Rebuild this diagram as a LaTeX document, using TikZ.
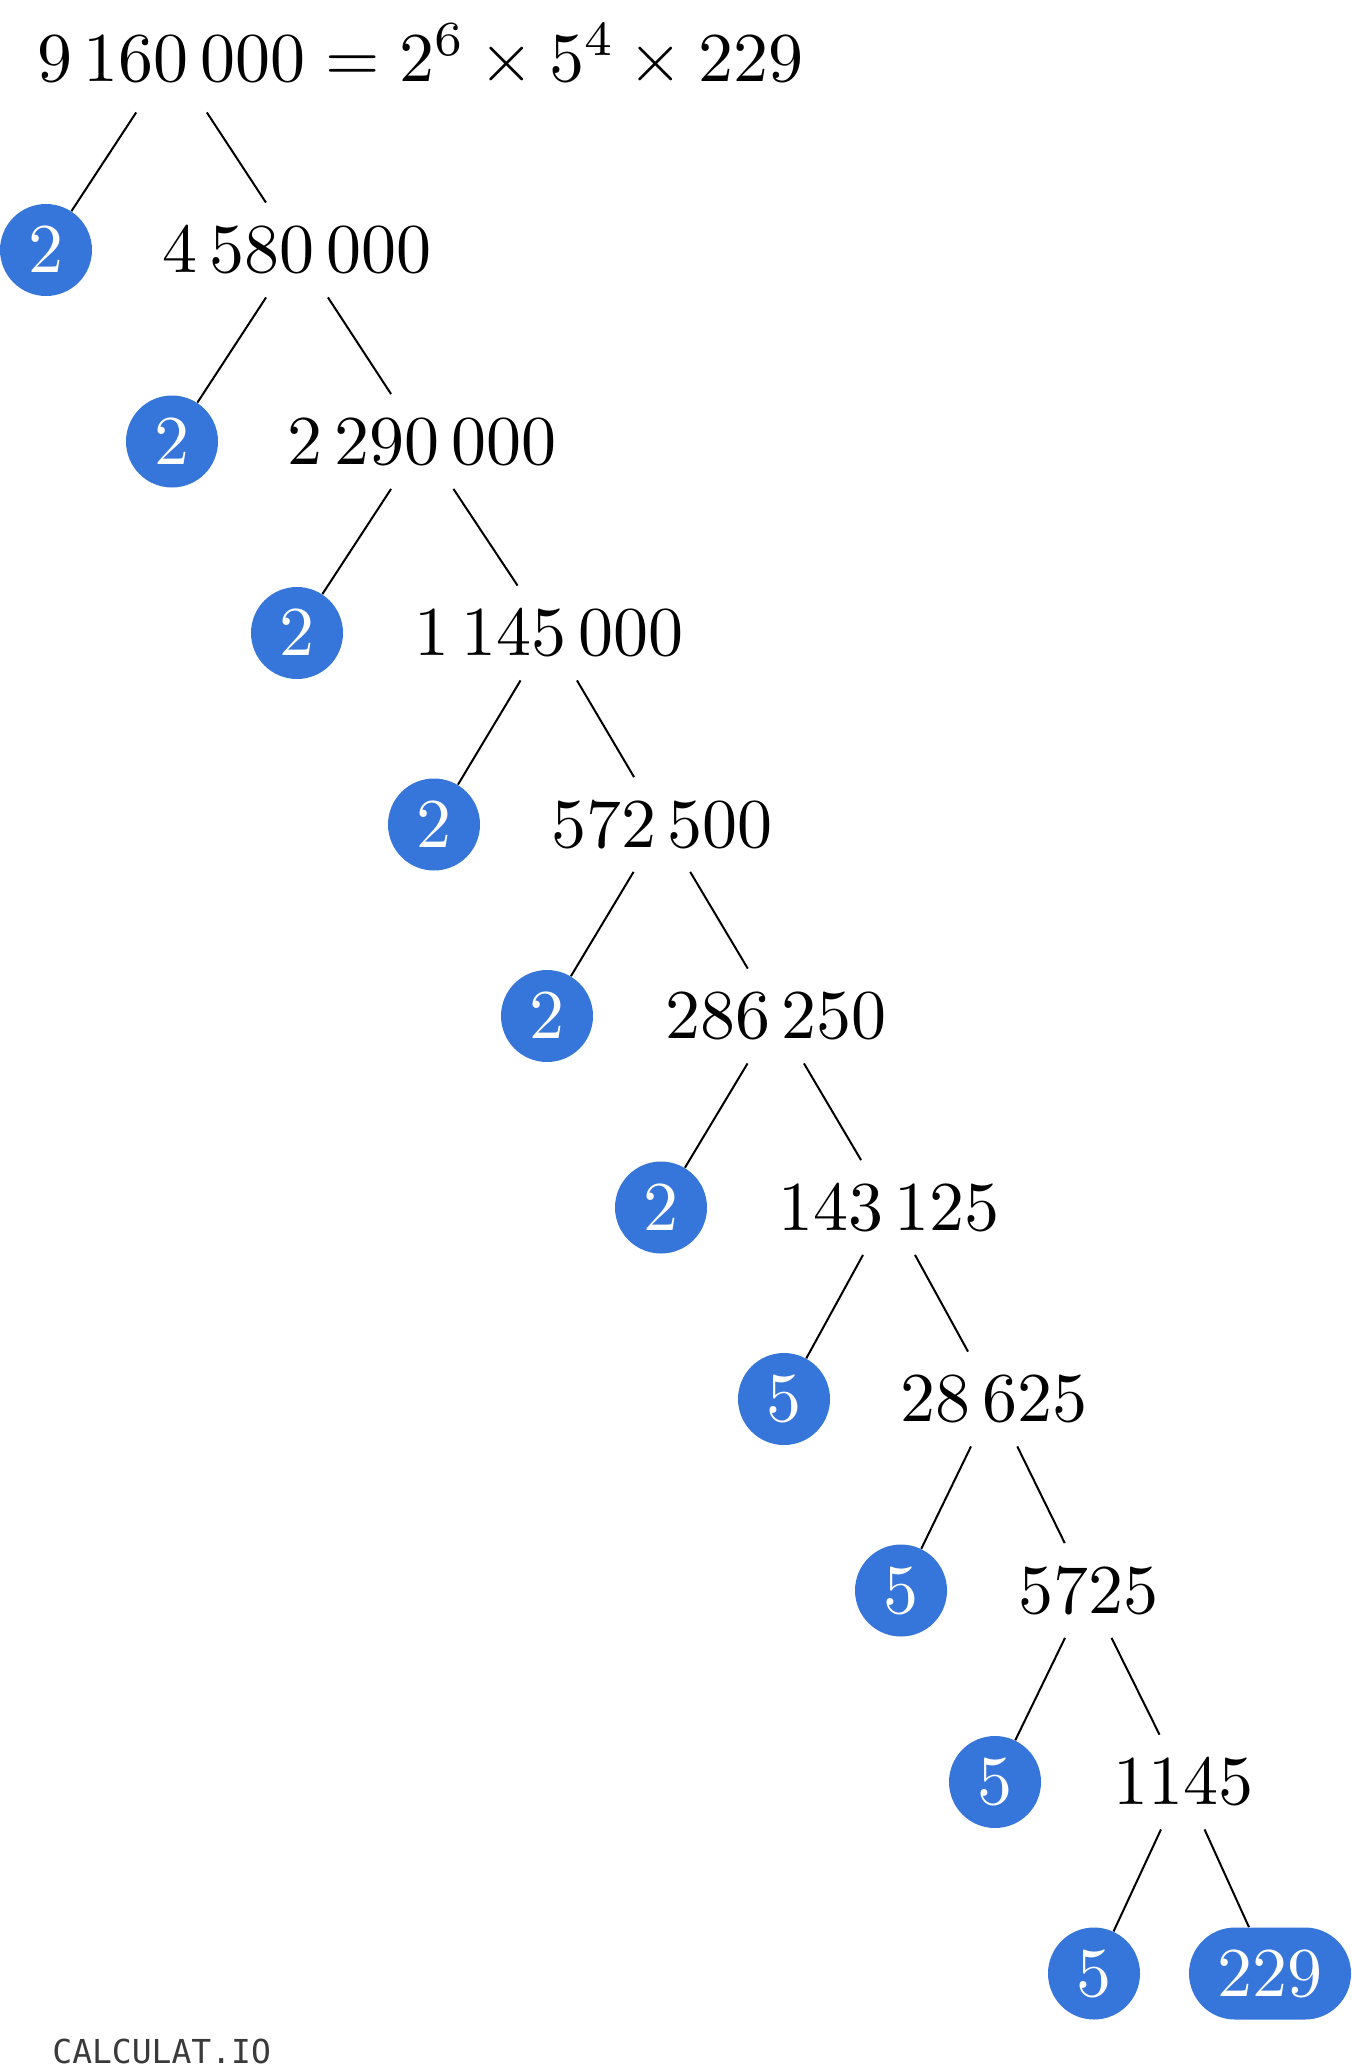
\documentclass[tikz,border=0pt]{standalone}
\usepackage{fix-cm}
\usepackage{fontspec}
\DeclareFontShape{OT1}{cmr}{m}{n}{<-30>cmr7<30->cmr10}{}
\newfontfamily\wmfont{DejaVu Sans Mono}
\definecolor{primeblue}{HTML}{3676DB}
\definecolor{wmgray}{HTML}{3A3A3A}
\tikzset{
  bigfont/.style={font=\fontsize{35}{42}\selectfont},
  num/.style={bigfont, inner xsep=6pt, inner ysep=0pt, minimum height=47pt},
  prime/.style={bigfont, circle, fill=primeblue, text=white, inner sep=0pt, minimum size=46pt},
  primepill/.style={prime, rectangle, rounded corners=23pt, minimum width=81pt},
  branch/.style={black, line width=1pt},
}

\begin{document}
\begin{tikzpicture}[x=0.5pt, y=-0.5pt]
\useasboundingbox (0,0) rectangle (1351,2070);
% root and its factorisation
\node[num, inner xsep=0pt, minimum height=53.5pt] (n1) at (171.5,58.5) {$9\,160\,000$};
\node[bigfont, inner sep=0pt, anchor=base west] (eq) at (n1.base east) {${}= 2^{6} \times 5^{4} \times 229$};
% chain of divisions
\foreach \k/\c/\n/\v/\p [evaluate=\k as \y using 58.5+191.5*(\k-1), evaluate=\k as \j using int(\k-1)] in
  {2/46/297/{4\,580\,000}/2, 3/172/422/{2\,290\,000}/2, 4/297/549/{1\,145\,000}/2,
   5/434/662/{572\,500}/2, 6/547/776/{286\,250}/2, 7/661/889/{143\,125}/2,
   8/784/994/{28\,625}/5, 9/901/1088/{5725}/5, 10/995/1183/{1145}/5} {
 \node[prime] (c\k) at (\c,\y) {$\p$};
 \node[num] (n\k) at (\n,\y) {$\v$};
 \draw[branch] (n\j) -- (c\k);
 \draw[branch] (n\j) -- (n\k);
}
% last row
\node[prime] (c11) at (1094,1973.5) {$5$};
\node[primepill] (n11) at (1270,1973.5) {$229$};
\draw[branch] (n10) -- (c11);
\draw[branch] (n10) -- (n11);
% watermark
\node[anchor=base west, inner sep=0pt, text=wmgray, font=\wmfont\fontsize{16.5}{20}\selectfont] (wm) at (52,2063) {CALCULAT.IO};
\end{tikzpicture}
\end{document}
